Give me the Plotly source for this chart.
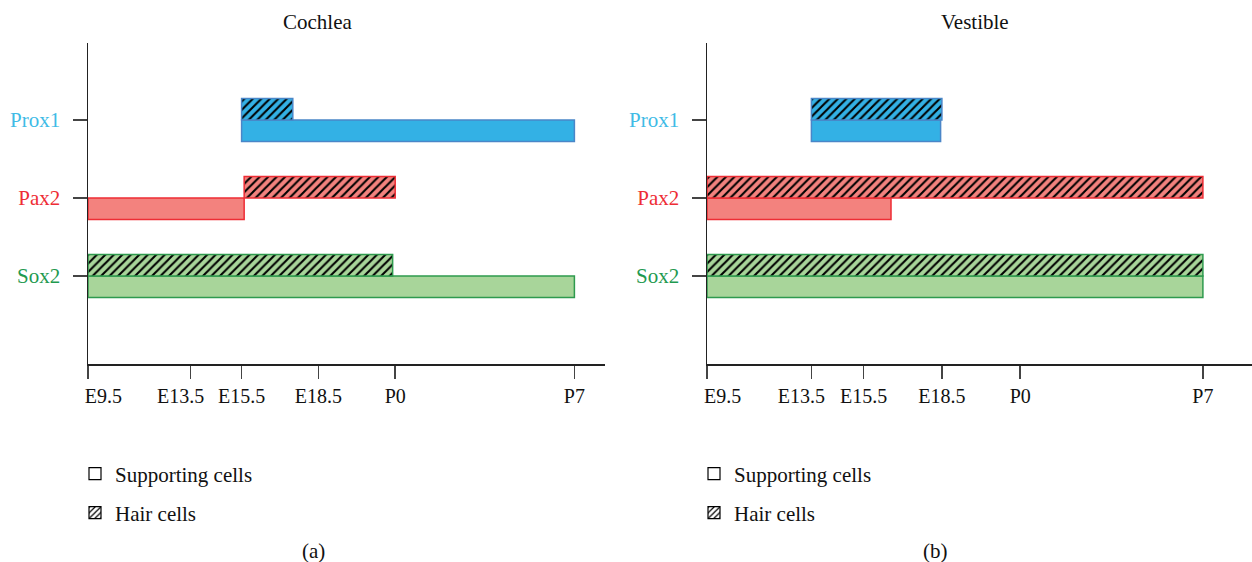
import plotly.graph_objects as go

# ---- data ----
genes = ["Sox2", "Pax2", "Prox1"]
gene_colors = {"Prox1": "#33b1e5", "Pax2": "#f3827e", "Sox2": "#a8d59a"}
gene_lines = {"Prox1": "#4a86c8", "Pax2": "#ee2d35", "Sox2": "#2e9a4e"}
label_colors = {"Prox1": "#3fbbe6", "Pax2": "#ee2d35", "Sox2": "#1f9a50"}

# stage scale: E9.5 = 0, P0 = 12, P7 = 19
tick_vals = [0, 4, 6, 9, 12, 19]
tick_labels = ["E9.5", "E13.5", "E15.5", "E18.5", "P0", "P7"]
# where the reference prints each label (first one nudged right, E13.5 nudged left)
label_pos = [0.6, 3.62, 6, 9, 12, 19]

# Cochlea: (start, end)
cochlea_support = {"Prox1": (6, 19), "Pax2": (0, 6.1), "Sox2": (0, 19)}
cochlea_hair = {"Prox1": (6, 8), "Pax2": (6.1, 12), "Sox2": (0, 11.9)}
# Vestibule
vest_support = {"Prox1": (4, 8.95), "Pax2": (0, 7.05), "Sox2": (0, 19)}
vest_hair = {"Prox1": (4, 9), "Pax2": (0, 19), "Sox2": (0, 19)}

panel_titles = ["Cochlea", "Vestible"]
panel_letters = ["(a)", "(b)"]
legend_labels = ["Supporting cells", "Hair cells"]

FONT = "Liberation Serif"
FS = 21
W, H = 1252, 562
BAR_W = 0.276

fig = go.Figure()

def add_panel(support, hair, xa, ya):
    for i, g in enumerate(genes):
        ypos = i + 1
        s0, s1 = support[g]
        fig.add_trace(go.Bar(
            orientation="h", y=[ypos - BAR_W / 2], x=[s1 - s0], base=[s0],
            width=BAR_W, xaxis=xa, yaxis=ya, showlegend=False,
            marker=dict(color=gene_colors[g], line=dict(color=gene_lines[g], width=1.5)),
            hoverinfo="skip"))
        h0, h1 = hair[g]
        fig.add_trace(go.Bar(
            orientation="h", y=[ypos + BAR_W / 2], x=[h1 - h0], base=[h0],
            width=BAR_W, xaxis=xa, yaxis=ya, showlegend=False,
            marker=dict(color=gene_colors[g], line=dict(color=gene_lines[g], width=1.5),
                        pattern=dict(shape="/", fgcolor="black", bgcolor=gene_colors[g],
                                     fillmode="replace", size=6, solidity=0.35)),
            hoverinfo="skip"))

add_panel(cochlea_support, cochlea_hair, "x", "y")
add_panel(vest_support, vest_hair, "x2", "y2")

# legend entries (one legend per item so they can be placed like the reference)
legend_ids = ["legend", "legend2", "legend3", "legend4"]
k = 0
for p, (xa, ya) in enumerate([("x", "y"), ("x2", "y2")]):
    for j, lab in enumerate(legend_labels):
        pat = (dict(shape="/", fgcolor="black", bgcolor="white", size=5, solidity=0.3)
               if j == 1 else dict(shape=""))
        fig.add_trace(go.Bar(
            orientation="h", x=[None], y=[None], xaxis=xa, yaxis=ya, name=lab,
            legend=legend_ids[k], showlegend=True,
            marker=dict(color="white", line=dict(color="black", width=1.2), pattern=pat)))
        k += 1

def px_x(px):
    return px / W

def px_y(py):
    return 1 - py / H

ytext = [f'<span style="color:{label_colors[g]}">{g}</span>' for g in genes]

axis_common = dict(showline=True, linecolor="#222", linewidth=1.5,
                   showgrid=False, zeroline=False, automargin=False, fixedrange=True)
xfont = dict(family=FONT, size=20, color="#111")
yfont = dict(family=FONT, size=FS, color="#111")

def xaxis_cfg(x0px, x1px, ppd, anchor):
    return dict(domain=[px_x(x0px), px_x(x1px)], range=[0, (x1px - x0px) / ppd], anchor=anchor,
                tickmode="array", tickvals=label_pos, ticktext=tick_labels, ticks="",
                ticklabelstandoff=13, tickangle=0, tickfont=xfont,
                minor=dict(tickmode="array", tickvals=tick_vals, ticks="outside",
                           ticklen=13, tickwidth=1.5, tickcolor="#444", showgrid=False),
                **axis_common)

def yaxis_cfg(anchor):
    return dict(domain=[px_y(364), px_y(43)], range=[-0.128, 3.987], anchor=anchor,
                tickvals=[1, 2, 3], ticktext=ytext, ticks="outside", ticklen=14,
                tickwidth=1.5, tickcolor="#444", ticklabelstandoff=8, tickfont=yfont,
                **axis_common)

fig.update_layout(
    template="none",
    width=W, height=H, autosize=False,
    margin=dict(l=0, r=0, t=0, b=0, pad=0),
    paper_bgcolor="white", plot_bgcolor="white",
    barmode="overlay",
    font=dict(family=FONT, size=FS, color="#111"),
    xaxis=xaxis_cfg(88, 605, 25.6, "y"),
    yaxis=yaxis_cfg("x"),
    xaxis2=xaxis_cfg(707, 1252, 26.1, "y2"),
    yaxis2=yaxis_cfg("x2"),
)

leg_pos = [(75, 474), (75, 513), (694, 474), (694, 513)]
for lid, (lx, ly) in zip(legend_ids, leg_pos):
    fig.update_layout({lid: dict(x=px_x(lx), y=px_y(ly), xanchor="left", yanchor="middle",
                                 bgcolor="rgba(0,0,0,0)", borderwidth=0,
                                 font=dict(family=FONT, size=FS, color="#111"))})

annots = [
    (317, 22, panel_titles[0]), (975, 22, panel_titles[1]),
    (313, 551, panel_letters[0]), (935, 551, panel_letters[1]),
]
for ax_, ay_, t in annots:
    fig.add_annotation(x=px_x(ax_), y=px_y(ay_), xref="paper", yref="paper", text=t,
                       showarrow=False, xanchor="center", yanchor="middle",
                       font=dict(family=FONT, size=FS, color="#111"))

fig.write_html("out.html", config={"displayModeBar": False, "staticPlot": True},
               post_script="document.body.style.margin='0';")
